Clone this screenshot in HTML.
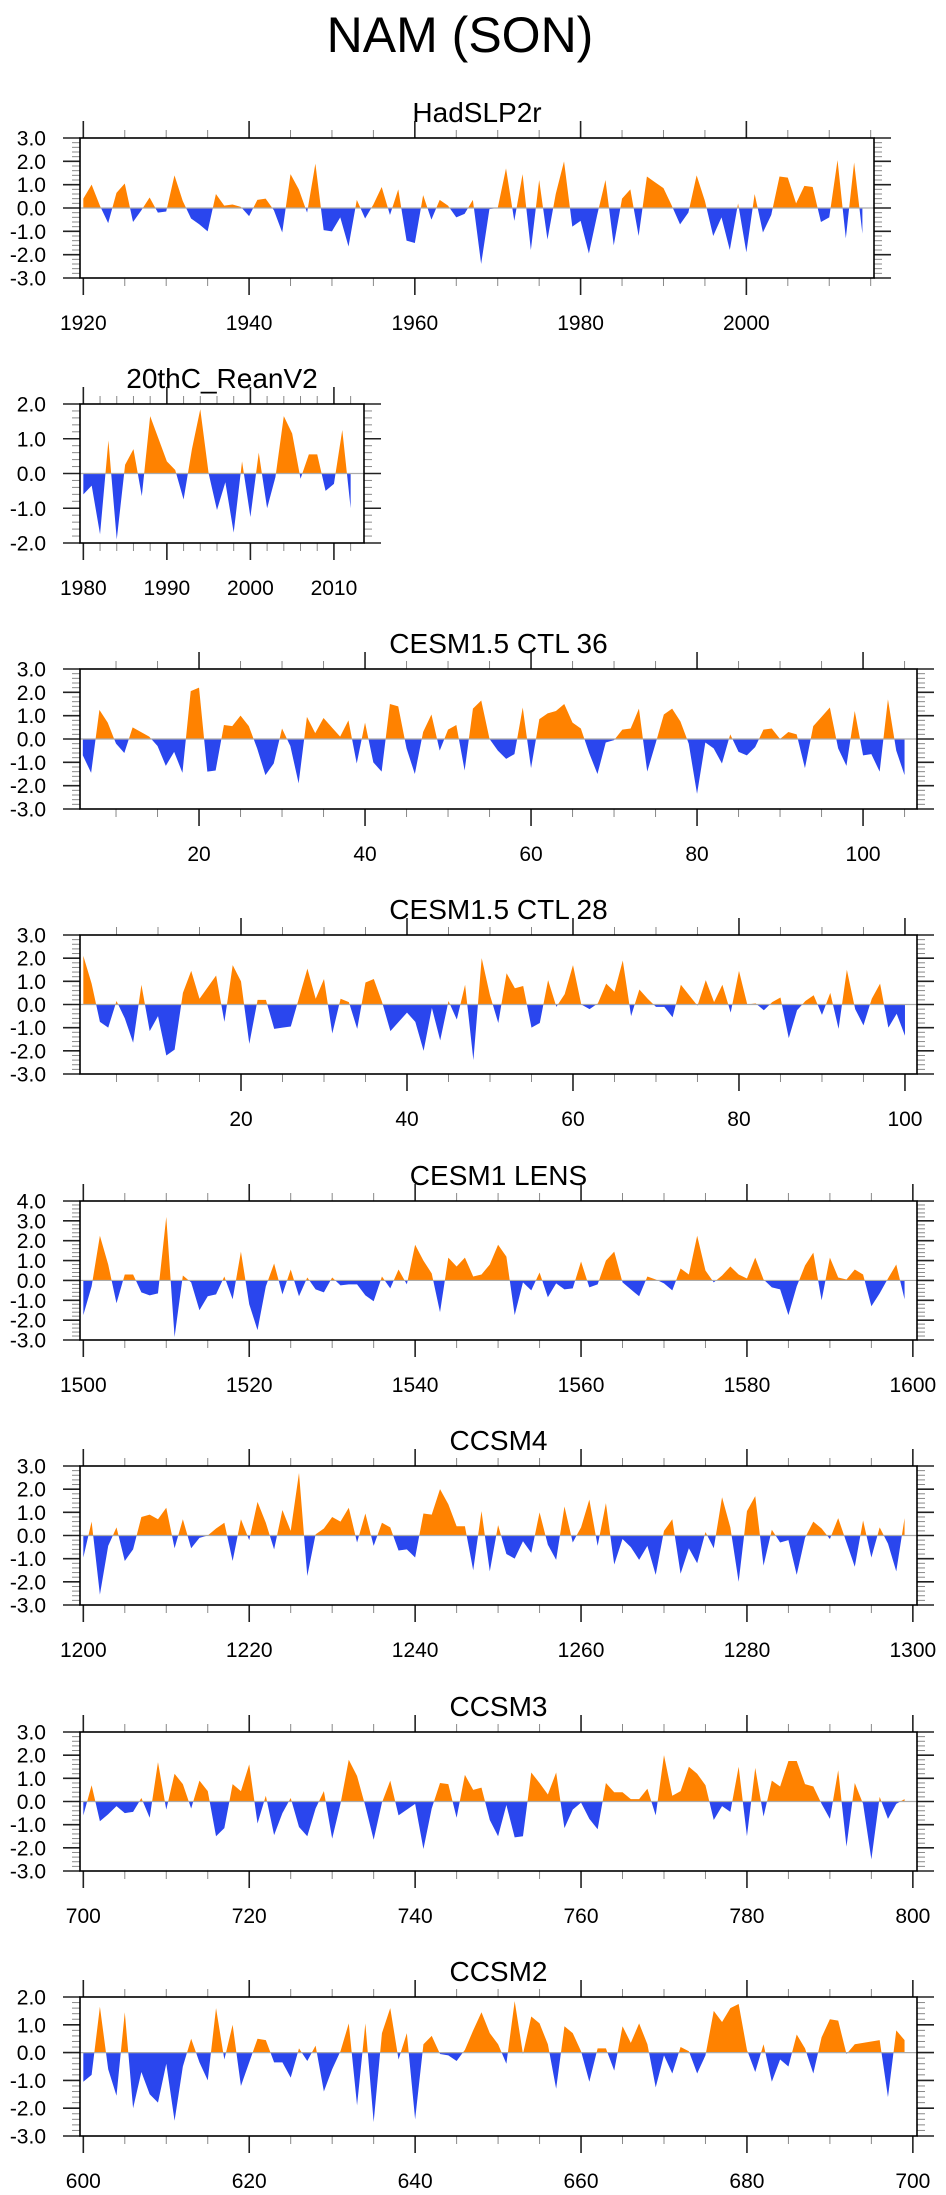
<!DOCTYPE html>
<html><head><meta charset="utf-8">
<style>
html,body{margin:0;padding:0;background:#fff;}
svg{display:block;font-family:"Liberation Sans",Arial,sans-serif;}
</style></head>
<body>
<svg id="fig" width="946" height="2195" viewBox="0 0 946 2195" xmlns="http://www.w3.org/2000/svg">
<text x="460" y="52" font-size="50" text-anchor="middle" fill="#000">NAM (SON)</text>
</svg>
<script>
// ---- data ----
const hadStart = 1920;
const hadValues = [0.4,1.0,0.1,-0.65,0.65,1.05,-0.6,-0.1,0.45,-0.2,-0.15,1.4,0.3,-0.45,-0.7,-1.0,0.6,0.1,0.15,0.05,-0.35,0.35,0.4,-0.1,-1.05,1.45,0.8,-0.2,1.9,-0.95,-1.0,-0.4,-1.65,0.35,-0.45,0.15,0.9,-0.3,0.8,-1.4,-1.5,0.55,-0.5,0.35,0.1,-0.4,-0.25,0.35,-2.4,-0.05,0.0,1.7,-0.55,1.45,-1.8,1.2,-1.35,0.6,2.0,-0.8,-0.55,-1.95,-0.3,1.2,-1.6,0.4,0.8,-1.2,1.35,1.1,0.85,0.1,-0.7,-0.2,1.4,0.3,-1.2,-0.4,-1.8,0.2,-1.9,0.6,-1.05,-0.3,1.35,1.3,0.2,0.95,0.9,-0.6,-0.4,2.05,-1.3,1.95,-1.1];
const reanStart = 1980;
const reanValues = [-0.6,-0.35,-1.75,0.95,-1.9,0.25,0.7,-0.65,1.65,1.0,0.35,0.1,-0.75,0.7,1.85,0.0,-1.05,-0.25,-1.7,0.35,-1.25,0.6,-1.0,-0.1,1.65,1.15,-0.15,0.55,0.55,-0.5,-0.3,1.25,-1.0];
const ctl36Start = 6;
const ctl36Values = [-0.7,-1.45,1.25,0.7,-0.2,-0.6,0.5,0.3,0.1,-0.3,-1.15,-0.55,-1.45,2.05,2.2,-1.4,-1.35,0.6,0.55,1.0,0.55,-0.4,-1.55,-1.05,0.45,-0.3,-1.9,0.95,0.25,0.9,0.5,0.1,0.8,-1.05,0.7,-1.0,-1.4,1.5,1.4,-0.4,-1.5,0.3,1.05,-0.5,0.4,0.6,-1.35,1.3,1.65,0.0,-0.5,-0.85,-0.65,1.35,-1.25,0.85,1.1,1.2,1.5,0.7,0.45,-0.6,-1.5,-0.15,-0.05,0.4,0.45,1.3,-1.4,-0.2,1.05,1.3,0.75,-0.2,-2.35,-0.15,-0.4,-1.05,0.2,-0.55,-0.7,-0.35,0.4,0.45,0.0,0.3,0.2,-1.25,0.55,0.95,1.35,-0.4,-1.15,1.2,-0.7,-0.65,-1.4,1.7,-0.5,-1.55];
const ctl28Start = 1;
const ctl28Values = [2.1,0.9,-0.75,-1.0,0.15,-0.6,-1.65,0.85,-1.15,-0.5,-2.2,-1.95,0.5,1.45,0.25,0.75,1.25,-0.75,1.7,1.0,-1.7,0.2,0.2,-1.05,-1.0,-0.95,0.3,1.55,0.25,1.1,-1.25,0.25,0.1,-1.05,0.95,1.1,0.1,-1.15,-0.75,-0.35,-0.75,-2.0,-0.15,-1.55,0.15,-0.65,0.85,-2.4,2.0,0.4,-0.8,1.35,0.7,0.8,-1.0,-0.8,1.05,-0.1,0.45,1.7,0.0,-0.2,0.05,0.9,0.55,1.9,-0.5,0.65,0.25,-0.1,-0.1,-0.55,0.85,0.4,-0.05,1.05,0.1,0.85,-0.35,1.45,0.0,0.05,-0.25,0.1,0.3,-1.45,-0.25,0.15,0.4,-0.45,0.5,-1.05,1.5,-0.2,-0.9,0.25,0.9,-1.0,-0.4,-1.35];
const lensStart = 1500;
const lensValues = [-1.75,-0.3,2.25,0.8,-1.15,0.3,0.3,-0.6,-0.75,-0.65,3.2,-2.85,0.25,-0.1,-1.5,-0.8,-0.7,0.2,-0.95,1.45,-1.2,-2.5,-0.3,0.85,-0.7,0.55,-0.8,0.15,-0.45,-0.6,0.15,-0.25,-0.2,-0.2,-0.75,-1.05,0.2,-0.4,0.55,-0.2,1.8,1.0,0.35,-1.6,1.15,0.7,1.15,0.2,0.3,0.8,1.8,1.2,-1.75,-0.1,-0.5,0.4,-0.85,-0.15,-0.45,-0.4,0.95,-0.35,-0.2,1.0,1.45,-0.1,-0.45,-0.8,0.2,0.05,-0.15,-0.5,0.6,0.3,2.25,0.5,-0.1,0.25,0.7,0.3,0.1,1.15,0.05,-0.35,-0.45,-1.75,-0.3,0.75,1.4,-1.0,1.15,0.15,0.05,0.55,0.3,-1.3,-0.65,0.1,0.8,-0.95];
const ccsm4Start = 1200;
const ccsm4Values = [-0.95,0.6,-2.55,-0.45,0.35,-1.1,-0.6,0.8,0.9,0.7,1.2,-0.55,0.7,-0.55,-0.1,0.0,0.3,0.55,-1.1,0.7,-0.2,1.45,0.55,-0.6,1.1,0.2,2.7,-1.75,0.05,0.3,0.8,0.6,1.2,-0.3,0.95,-0.45,0.55,0.35,-0.65,-0.6,-0.95,0.95,0.9,2.0,1.35,0.4,0.4,-1.5,1.05,-1.55,0.45,-0.8,-1.0,-0.25,-0.75,1.0,-0.4,-1.05,1.25,-0.3,0.35,1.55,-0.45,1.4,-1.25,-0.15,-0.5,-1.05,-0.45,-1.7,0.2,0.7,-1.65,-0.55,-1.2,0.15,-0.55,1.65,0.35,-2.0,1.05,1.7,-1.3,0.25,-0.3,-0.2,-1.7,-0.1,0.6,0.3,-0.15,0.75,-0.3,-1.35,0.65,-0.95,0.35,-0.35,-1.55,0.75];
const ccsm3Start = 700;
const ccsm3Values = [-0.6,0.7,-0.85,-0.55,-0.2,-0.5,-0.45,0.15,-0.7,1.7,-0.35,1.2,0.75,-0.3,0.9,0.45,-1.5,-1.15,0.75,0.45,1.6,-0.95,0.25,-1.45,-0.5,0.15,-1.1,-1.5,-0.3,0.45,-1.6,-0.1,1.8,1.1,-0.2,-1.65,-0.05,0.9,-0.6,-0.35,-0.1,-2.05,-0.3,0.8,0.75,-0.7,1.15,0.5,0.6,-0.8,-1.5,-0.15,-1.55,-1.5,1.25,0.8,0.3,1.25,-1.15,-0.35,-0.05,-0.75,-1.2,0.8,0.4,0.4,0.1,0.1,0.55,-0.6,2.0,0.25,0.45,1.5,1.2,0.7,-0.8,-0.2,-0.45,1.5,-1.5,1.45,-0.65,0.9,0.65,1.75,1.75,0.75,0.65,-0.1,-0.75,1.35,-1.95,0.8,-0.1,-2.5,0.2,-0.75,-0.1,0.1];
const ccsm2Start = 600;
const ccsm2Values = [-1.05,-0.8,1.65,-0.6,-1.55,1.45,-2.0,-0.7,-1.5,-1.8,-0.4,-2.45,-0.5,0.5,-0.35,-1.0,1.6,-0.25,1.0,-1.2,-0.35,0.5,0.45,-0.35,-0.35,-0.9,0.15,-0.3,0.25,-1.4,-0.6,0.05,1.05,-1.9,1.05,-2.5,0.7,1.6,-0.25,0.7,-2.4,0.3,0.6,-0.05,-0.1,-0.3,0.1,0.8,1.45,0.7,0.3,-0.4,1.85,-0.05,1.3,1.05,0.3,-1.3,0.95,0.7,0.05,-1.05,0.15,0.15,-0.65,0.95,0.35,1.05,0.3,-1.25,-0.1,-0.75,0.2,0.05,-0.75,-0.1,1.5,1.1,1.6,1.75,0.1,-0.7,0.3,-1.05,-0.25,-0.5,0.65,0.15,-0.75,0.55,1.2,1.15,-0.05,0.3,0.35,0.4,0.45,-1.6,0.8,0.45];

// ---- panels (layout) ----
const panels = [
 {id:'hadslp2r', title:'HadSLP2r', start:hadStart, vals:hadValues, L:80,R:874,T:138,B:278, xmin:1919.6,xmax:2015.4, ymin:-3,ymax:3, major:20, minor:5},
 {id:'20thc-reanv2', title:'20thC_ReanV2', start:reanStart, vals:reanValues, L:80,R:364,T:404,B:543, xmin:1979.6,xmax:2013.6, ymin:-2,ymax:2, major:10, minor:2},
 {id:'cesm15-ctl36', title:'CESM1.5 CTL 36', start:ctl36Start, vals:ctl36Values, L:80,R:917,T:669,B:809, xmin:5.66,xmax:106.5, ymin:-3,ymax:3, major:20, minor:5},
 {id:'cesm15-ctl28', title:'CESM1.5 CTL 28', start:ctl28Start, vals:ctl28Values, L:80,R:917,T:935,B:1074, xmin:0.6,xmax:101.45, ymin:-3,ymax:3, major:20, minor:5},
 {id:'cesm1-lens', title:'CESM1 LENS', start:lensStart, vals:lensValues, L:80,R:917,T:1201,B:1340, xmin:1499.6,xmax:1600.5, ymin:-3,ymax:4, major:20, minor:5},
 {id:'ccsm4', title:'CCSM4', start:ccsm4Start, vals:ccsm4Values, L:80,R:917,T:1466,B:1605, xmin:1199.6,xmax:1300.5, ymin:-3,ymax:3, major:20, minor:5},
 {id:'ccsm3', title:'CCSM3', start:ccsm3Start, vals:ccsm3Values, L:80,R:917,T:1732,B:1871, xmin:699.6,xmax:800.5, ymin:-3,ymax:3, major:20, minor:5},
 {id:'ccsm2', title:'CCSM2', start:ccsm2Start, vals:ccsm2Values, L:80,R:917,T:1997,B:2136, xmin:599.6,xmax:700.5, ymin:-3,ymax:2, major:20, minor:5}
];

const NS = 'http://www.w3.org/2000/svg';
const svg = document.getElementById('fig');
function mk(tag, attrs, parent){
  const e = document.createElementNS(NS, tag);
  for (const k in attrs) e.setAttribute(k, attrs[k]);
  parent.appendChild(e);
  return e;
}

panels.forEach((p, pi) => {
  const g = mk('g', {}, svg);
  
  
  const xs = v => p.L + (v - p.xmin) / (p.xmax - p.xmin) * (p.R - p.L);
  const ys = v => p.B - (v - p.ymin) / (p.ymax - p.ymin) * (p.B - p.T);
  const z = ys(0);

  const t = mk('text', {x:(p.L+p.R)/2, y:p.T-16, 'font-size':28, 'text-anchor':'middle', fill:'#000'}, g);
  t.textContent = p.title;
  
  

  const defs = mk('defs', {}, g);
  const cpU = mk('clipPath', {id:'cu'+pi}, defs);
  mk('rect', {x:p.L, y:p.T, width:p.R-p.L, height:z-p.T}, cpU);
  const cpD = mk('clipPath', {id:'cd'+pi}, defs);
  mk('rect', {x:p.L, y:z, width:p.R-p.L, height:p.B-z}, cpD);

  let pts = xs(p.start).toFixed(2) + ',' + z.toFixed(2) + ' ';
  p.vals.forEach((v, i) => { pts += xs(p.start + i).toFixed(2) + ',' + ys(v).toFixed(2) + ' '; });
  pts += xs(p.start + p.vals.length - 1).toFixed(2) + ',' + z.toFixed(2);

  const pos = mk('polygon', {points:pts, fill:'#ff8200', 'clip-path':'url(#cu'+pi+')'}, g);
  
  
  const neg = mk('polygon', {points:pts, fill:'#2a46ee', 'clip-path':'url(#cd'+pi+')'}, g);
  
  

  const zl = mk('line', {x1:p.L, x2:p.R, y1:z, y2:z, stroke:'#aaa', 'stroke-width':1.2}, g);
  
  

  const ny = Math.round((p.ymax - p.ymin) / 0.2);
  for (let k = 0; k <= ny; k++) {
    const v = p.ymin + k * 0.2;
    const y = ys(v);
    const isMaj = k % 5 === 0;
    const len = isMaj ? 17 : 8;
    mk('line', {x1:p.L-len, x2:p.L, y1:y, y2:y, stroke:isMaj?'#222':'#888', 'stroke-width':isMaj?1.6:1}, g);
    mk('line', {x1:p.R, x2:p.R+len, y1:y, y2:y, stroke:isMaj?'#222':'#888', 'stroke-width':isMaj?1.6:1}, g);
    if (isMaj) {
      const lt = mk('text', {x:46, y:y+7.5, 'font-size':21, 'text-anchor':'end', fill:'#000'}, g);
      lt.textContent = v.toFixed(1) === '-0.0' ? '0.0' : v.toFixed(1);
      
      
    }
  }
  const first = Math.ceil(p.xmin / p.minor) * p.minor;
  for (let v = first; v <= p.xmax; v += p.minor) {
    const x = xs(v);
    const isMaj = v % p.major === 0;
    const len = isMaj ? 17 : 8;
    mk('line', {x1:x, x2:x, y1:p.T-len, y2:p.T, stroke:isMaj?'#222':'#888', 'stroke-width':isMaj?1.6:1}, g);
    mk('line', {x1:x, x2:x, y1:p.B, y2:p.B+len, stroke:isMaj?'#222':'#888', 'stroke-width':isMaj?1.6:1}, g);
    if (isMaj) {
      const xt = mk('text', {x:x, y:p.B+52, 'font-size':21, 'text-anchor':'middle', fill:'#000'}, g);
      xt.textContent = String(v);
      
      
    }
  }
  const box = mk('rect', {x:p.L, y:p.T, width:p.R-p.L, height:p.B-p.T, fill:'none', stroke:'#000', 'stroke-width':1.6}, g);
  
  
});
</script>
</body></html>
